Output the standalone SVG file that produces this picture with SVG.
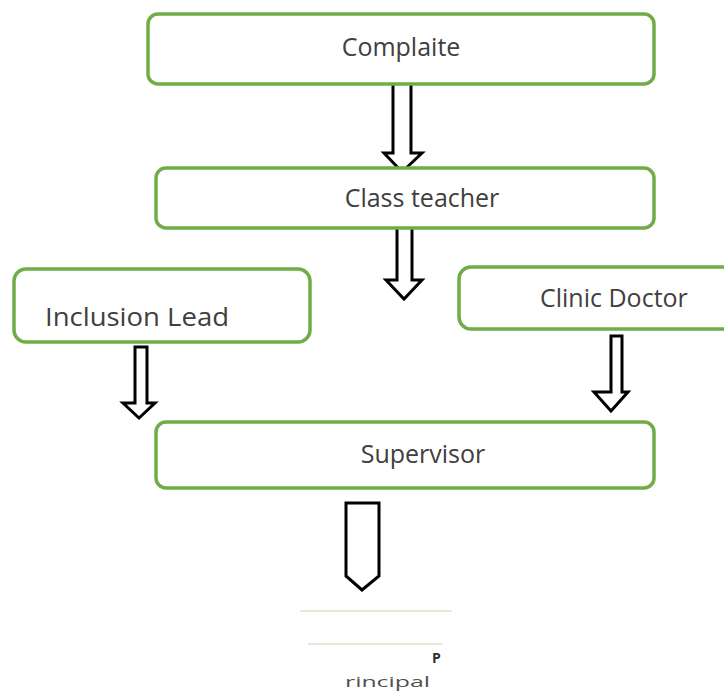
<svg xmlns="http://www.w3.org/2000/svg" width="724" height="691" viewBox="0 0 724 691">
<style>
.box{fill:#fff;stroke:#70ad47;stroke-width:3.5}
.lbl{font-family:"Open Sans","Liberation Sans",sans-serif;font-size:25px;fill:#404040}
.arr{fill:#fff;stroke:#000;stroke-width:3;stroke-linejoin:miter}
.ln{stroke:#d5e8c8;stroke-width:1.5}
.sm{font-family:"Open Sans","Liberation Sans",sans-serif;font-size:14px;fill:#505050}
</style>
<rect width="724" height="691" fill="#fff"/>
<g id="connectors">
<path class="arr" d="M393,82 H411 V153 H422 L402,172 L384,153 H393 Z"/>
<path class="arr" d="M397,224 H412 V280 H422 L404,299 L386,280 H397 Z"/>
<path class="arr" d="M135,347 H147 V403 H155 L139,418 L123,403 H135 Z"/>
<path class="arr" d="M611,336 H622 V392 H628 L611,411 L594,392 H611 Z"/>
<path class="arr" d="M346,503 H379 V576 L362,590 L346,576 Z"/>
</g>
<g id="complaite">
<rect class="box" x="148" y="14" width="506" height="70" rx="10"/>
<text class="lbl" x="401" y="56" text-anchor="middle">Complaite</text>
</g>
<g id="class-teacher">
<rect class="box" x="156" y="168" width="498" height="60" rx="10"/>
<text class="lbl" x="422" y="207" text-anchor="middle">Class teacher</text>
</g>
<g id="inclusion-lead">
<rect class="box" x="14" y="269" width="296" height="73" rx="12"/>
<text class="lbl" x="45" y="326" textLength="184" lengthAdjust="spacingAndGlyphs">Inclusion Lead</text>
</g>
<g id="clinic-doctor">
<rect class="box" x="459" y="267" width="280" height="62" rx="12"/>
<text class="lbl" x="540" y="307">Clinic Doctor</text>
</g>
<g id="supervisor">
<rect class="box" x="156" y="422" width="498" height="66" rx="10"/>
<text class="lbl" x="423" y="463" text-anchor="middle">Supervisor</text>
</g>
<g id="principal">
<line class="ln" x1="300" y1="611" x2="452" y2="611"/>
<line class="ln" x1="308" y1="644" x2="443" y2="644"/>
<text class="sm" x="432" y="663" style="font-weight:bold;fill:#303030">P</text>
<text class="sm" x="345" y="687" textLength="85" lengthAdjust="spacingAndGlyphs">rincipal</text>
</g>
</svg>
